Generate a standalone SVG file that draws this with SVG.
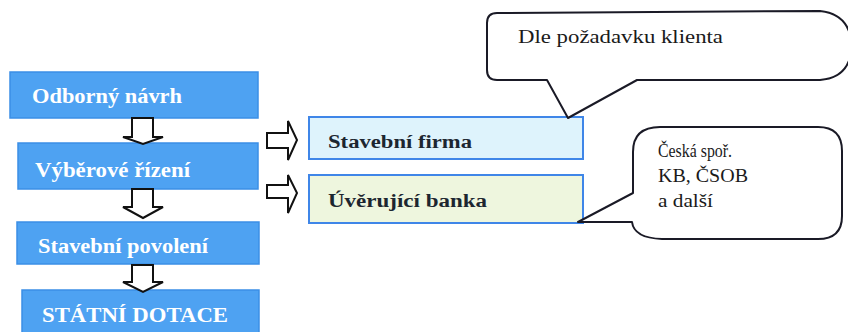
<svg xmlns="http://www.w3.org/2000/svg" width="848" height="332" viewBox="0 0 848 332">
<style>
.step{fill:#4ea2f2;stroke:#3b8fe6;stroke-width:1.5}
.stxt{font-family:"Liberation Serif",serif;font-weight:bold;font-size:20px;fill:#ffffff}
.side{stroke:#3f86e8;stroke-width:2}
.dtxt{font-family:"Liberation Serif",serif;font-weight:bold;font-size:18px;fill:#1c2630}
.call{fill:#ffffff;stroke:#1a1a26;stroke-width:2;stroke-linejoin:round}
.ctxt{font-family:"Liberation Serif",serif;font-size:18px;fill:#1a1a1a}
.arr{fill:#ffffff;stroke:#111111;stroke-width:2;stroke-linejoin:miter}
</style>
<rect width="848" height="332" fill="#ffffff"/>
<g id="odborny-navrh">
<rect class="step" x="10" y="72" width="248" height="46"/>
<text class="stxt" x="32" y="103" textLength="150" lengthAdjust="spacingAndGlyphs">Odborný návrh</text>
</g>
<g id="vyberove-rizeni">
<rect class="step" x="18" y="143" width="240" height="46"/>
<text class="stxt" x="35" y="177" textLength="155" lengthAdjust="spacingAndGlyphs">Výběrové řízení</text>
</g>
<g id="stavebni-povoleni">
<rect class="step" x="17" y="222" width="242" height="42"/>
<text class="stxt" x="38" y="253" textLength="170" lengthAdjust="spacingAndGlyphs">Stavební povolení</text>
</g>
<g id="statni-dotace">
<rect class="step" x="22" y="290" width="237" height="50"/>
<text class="stxt" x="42" y="322" font-size="21" textLength="186" lengthAdjust="spacingAndGlyphs">STÁTNÍ DOTACE</text>
</g>
<g id="stavebni-firma">
<rect class="side" x="309" y="117" width="274" height="42" fill="#def3fc"/>
<text class="dtxt" x="328" y="148" textLength="144" lengthAdjust="spacingAndGlyphs">Stavební firma</text>
</g>
<g id="uverujici-banka">
<rect class="side" x="309" y="175" width="274" height="48" fill="#eef6de"/>
<text class="dtxt" x="328" y="207" textLength="159" lengthAdjust="spacingAndGlyphs">Úvěrující banka</text>
</g>
<g id="callout-klient">
<path class="call" d="M497 13 L820 11 Q850 14 852 46 Q850 78 820 80 L637 80 L568 118 L547 80 L497 80 Q487 80 487 70 L487 23 Q487 13 497 13 Z"/>
<text class="ctxt" x="518" y="43" font-size="20" textLength="205" lengthAdjust="spacingAndGlyphs">Dle požadavku klienta</text>
</g>
<g id="callout-banky">
<path class="call" d="M660 127 L818 127 Q842 127 842 151 L842 216 Q842 239 818 239 L662 239 Q634 238 632 222 L578 222 L633 193 L633 152 Q633 127 660 127 Z"/>
<text class="ctxt" x="658" y="157" font-size="16" textLength="74" lengthAdjust="spacingAndGlyphs">Česká spoř.</text>
<text class="ctxt" x="658" y="182" font-size="17" textLength="90" lengthAdjust="spacingAndGlyphs">KB, ČSOB</text>
<text class="ctxt" x="658" y="207" font-size="17" textLength="55" lengthAdjust="spacingAndGlyphs">a další</text>
</g>
<g id="connectors">
<polygon class="arr" points="132,118 153,118 153,137 163,137 143,144 123,137 132,137"/>
<polygon class="arr" points="132,189 153,189 153,207 163,207 143,218 123,207 132,207"/>
<polygon class="arr" points="132,265 153,265 153,282 163,282 143,292 123,282 132,282"/>
<polygon class="arr" points="267,133 288,133 288,121 297,140 288,160 288,148 267,148"/>
<polygon class="arr" points="267,185 288,185 288,175 297,193 288,213 288,198 267,198"/>
</g>
</svg>
